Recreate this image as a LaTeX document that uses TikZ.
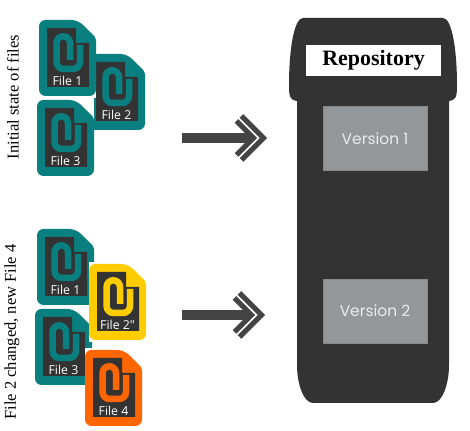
\documentclass[tikz,border=0pt]{standalone}
\usepackage{fontspec}
\setmainfont{Liberation Serif}
\newfontfamily\iconfont{Open Sans}
\newfontfamily\versionfont{Poppins}
\usepackage{xcolor}
\definecolor{cDark}{HTML}{333333}
\definecolor{cArrow}{HTML}{444444}
\definecolor{cTeal}{HTML}{0A7F80}
\definecolor{cYellow}{HTML}{FFCC00}
\definecolor{cOrange}{HTML}{FF6600}
\definecolor{cGrayBox}{HTML}{93979A}
\definecolor{cGrayEdge}{HTML}{85898C}
\usepackage{tikz}
\usetikzlibrary{positioning,calc}
\tikzset{
  file-label/.style={text=white,font=\iconfont\fontsize{7}{8}\selectfont,inner sep=0pt},
  side-label/.style={rotate=90,font=\fontsize{9.4}{11}\selectfont,inner sep=0pt},
  version-box/.style={fill=cGrayBox,draw=cGrayEdge,line width=0.5pt,minimum width=2.08cm,
    minimum height=1.28cm,text=white!92!black,font=\versionfont\fontsize{8.8}{10}\selectfont},
  repo-title/.style={fill=white,minimum width=2.7cm,minimum height=0.62cm,inner sep=0pt,
    font=\bfseries\fontsize{12.5}{14}\selectfont},
  arrow-shaft/.style={line width=1.9mm,draw=cArrow},
  arrow-barb/.style={line width=1mm,draw=cArrow,miter limit=10},
  pics/file-icon/.style 2 args={code={
    \fill[white] (0,-2) rectangle (57,78);
    \fill[#1,rounded corners=1.3mm] (0,38) -- (0,0) -- (39,0) [rounded corners=0.4mm] -- (57,18)
      [rounded corners=1.3mm] -- (57,76) -- (0,76) -- cycle;
    \fill[cDark] (8,8) -- (37,8) -- (37,23) -- (50,23) -- (50,67) -- (8,67) -- cycle;
    \draw[#1,line width=1.3mm] (31,40) -- (31,23) arc[start angle=0,end angle=-180,radius=6.7]
      -- (17.6,42) arc[start angle=180,end angle=90,radius=7] -- (34,49)
      arc[start angle=90,end angle=0,radius=7] -- (41,25);
    \node[file-label] (-label) at (28.5,61) {#2};
  }},
  pics/twin-barb/.style={code={
    \draw[arrow-barb] (-22,-22) -- (0,0) -- (-22,22);
    \draw[arrow-barb] (-27,-17) -- (-10,0) -- (-27,17);
  }},
}

\begin{document}
\begin{tikzpicture}[x=0.02cm,y=-0.02cm]
  \useasboundingbox (0,0) rectangle (470,431);
  \pic (f2) at (88,54) {file-icon={cTeal}{File 2}};
  \pic (f1) at (39,20) {file-icon={cTeal}{File 1}};
  \pic (f3) at (37,100) {file-icon={cTeal}{File 3}};
  \pic (g1) at (37,229) {file-icon={cTeal}{File 1}};
  \pic (g3) at (35,309) {file-icon={cTeal}{File 3}};
  \pic (g2) at (89,264) {file-icon={cYellow}{File 2"}};
  \pic (g4) at (85,350) {file-icon={cOrange}{File 4}};
  \node[side-label] (initial) at (13,97) {Initial state of files};
  \node[side-label] (changed) at (12,332) {File 2 changed, new File 4};
  % repository body
  \fill[cDark] (303,18) -- (443,18) .. controls (452,18) and (457,50) .. (457,85)
    .. controls (457,97) and (456,100) .. (449,101) -- (449,365)
    .. controls (449,385) and (442,403) .. (433,403) -- (313,403)
    .. controls (304,403) and (297,385) .. (297,365) -- (297,101)
    .. controls (290,100) and (289,97) .. (289,85) .. controls (289,50) and (294,18) .. (303,18) -- cycle;
  \node[repo-title] (repo) at (373.5,60.5) {Repository};
  \node[version-box] (v1) at (375,138.5) {Version 1};
  \node[version-box] (v2) at (375,311) {Version 2};
  \coordinate (a1) at (182,138);
  \coordinate (a2) at (250,138);
  \coordinate (b1) at (182,315);
  \coordinate (b2) at (248,315);
  \draw[arrow-shaft] (a1) -- (a2);
  \draw[arrow-shaft] (b1) -- (b2);
  \pic (t1) at (263.5,138) {twin-barb};
  \pic (t2) at (261.5,315) {twin-barb};
\end{tikzpicture}
\end{document}
